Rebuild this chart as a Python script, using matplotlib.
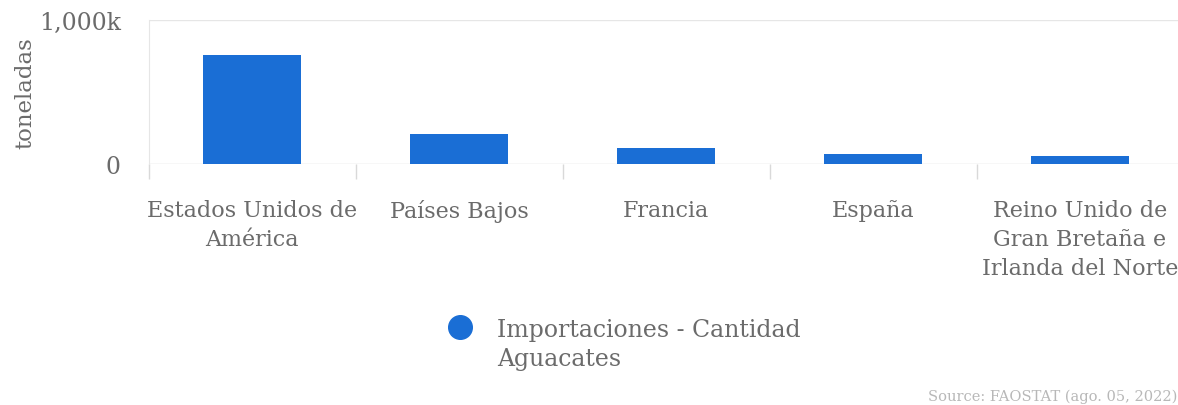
import matplotlib
matplotlib.use("Agg")
import matplotlib.pyplot as plt
from matplotlib.lines import Line2D
import numpy as np

categories = ["Estados Unidos de\nAmérica", "Países Bajos", "Francia", "España",
              "Reino Unido de\nGran Bretaña e\nIrlanda del Norte"]
values = [757000, 208000, 111000, 69000, 55000]
series_name = "Importaciones - Cantidad\nAguacates"
ytick_vals = [0, 1000000]
ytick_labels = ["0", "1,000k"]

W, H = 1178, 406
fig = plt.figure(figsize=(W / 100, H / 100), dpi=100)
plt.rcParams['font.family'] = ['DejaVu Serif']

left_px, right_px = 148.5, 1183.5
zero_px, top_px = 165, 21
ax = fig.add_axes([left_px / W, (H - zero_px) / H, (right_px - left_px) / W, (zero_px - top_px) / H])

text_col = "#6b6b6b"
bar_col = "#1a6ed5"
grid_col = "#e6e6e6"
fs = 16

x = np.arange(len(categories))
ax.bar(x, values, width=0.47, color=bar_col, zorder=3)
ax.set_xlim(-0.5, len(categories) - 0.5)
ax.set_ylim(0, 1000000)

for s in ["top", "right", "bottom"]:
    ax.spines[s].set_visible(False)
ax.spines["left"].set_color(grid_col)
ax.spines["left"].set_bounds(0, 1000000)

ax.axhline(0, color="#d9d9d9", lw=1, zorder=2)
ax.axhline(1000000, color=grid_col, lw=1, zorder=2)

ax.set_yticks(ytick_vals)
ax.set_yticklabels(ytick_labels)
ax.tick_params(axis="y", length=0, pad=20, labelsize=17, labelcolor=text_col)

boundaries = np.arange(len(categories) + 1) - 0.5
ax.set_xticks(boundaries)
ax.set_xticklabels([])
ax.tick_params(axis="x", which="major", length=11, color="#d9d9d9", width=1)
ax.set_xticks(x, minor=True)
ax.set_xticklabels(categories, minor=True)
ax.tick_params(axis="x", which="minor", length=0, pad=25, labelsize=fs, labelcolor=text_col)
for lbl in ax.get_xticklabels(minor=True):
    lbl.set_linespacing(1.42)
    lbl.set_horizontalalignment("center")

ax.set_ylabel("toneladas", color=text_col, fontsize=16.5)
ax.yaxis.set_label_coords(-0.108, 0.5)

# legend
fig.add_artist(Line2D([460 / W], [1 - 328 / H], marker="o", markersize=17,
                      color=bar_col, linestyle="none", transform=fig.transFigure))
fig.text(497 / W, 1 - 345 / H, series_name, fontsize=17, color=text_col,
         va="center", ha="left", linespacing=1.38)

fig.text(1177 / W, 1 - 397 / H, "Source: FAOSTAT (ago. 05, 2022)", fontsize=10.5,
         color="#b8b8b8", ha="right", va="center")

fig.savefig("out.png", dpi=100)
